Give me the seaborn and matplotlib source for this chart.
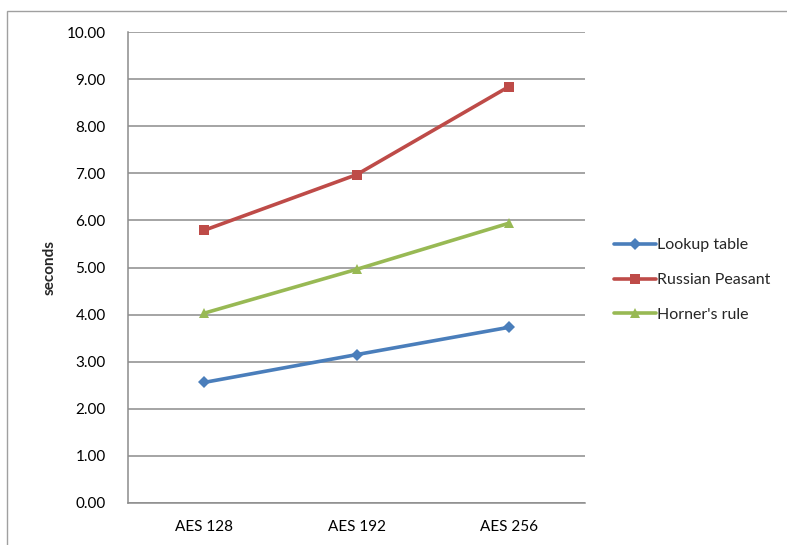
import matplotlib
matplotlib.use("Agg")
import matplotlib.pyplot as plt
from matplotlib.patches import Rectangle
import pandas as pd
import seaborn as sns

# Encryption timings per AES key size
key_sizes = ["AES 128", "AES 192", "AES 256"]
lookup_table = [2.56, 3.15, 3.73]
russian_peasant = [5.79, 6.97, 8.84]
horners_rule = [4.03, 4.96, 5.94]
series_names = ["Lookup table", "Russian Peasant", "Horner's rule"]
y_ticks = [0, 1, 2, 3, 4, 5, 6, 7, 8, 9, 10]

df = pd.DataFrame({
    "key": key_sizes * 3,
    "pos": list(range(len(key_sizes))) * 3,
    "seconds": lookup_table + russian_peasant + horners_rule,
    "method": [n for n in series_names for _ in key_sizes],
})

sns.set_theme(style="white")
plt.rcParams["font.family"] = ["Lato", "DejaVu Sans"]

palette = {"Lookup table": "#4A7EBB", "Russian Peasant": "#BE4B48", "Horner's rule": "#98B954"}
markers = {"Lookup table": "D", "Russian Peasant": "s", "Horner's rule": "^"}
msizes = {"Lookup table": 7, "Russian Peasant": 8.5, "Horner's rule": 9.5}

fig = plt.figure(figsize=(7.87, 5.45), dpi=100)
ax = fig.add_axes([128 / 787, 1 - 503 / 545, (585 - 128) / 787, (503 - 32) / 545])

for name in series_names:
    sub = df[df["method"] == name]
    sns.lineplot(data=sub, x="pos", y="seconds", ax=ax, color=palette[name],
                 marker=markers[name], markersize=msizes[name], linewidth=2.6,
                 markeredgewidth=0, label=name, legend=False)

ax.set_xlim(-0.5, len(key_sizes) - 0.5)
ax.set_ylim(0, 10)
ax.set_xticks(range(len(key_sizes)))
ax.set_xticklabels(key_sizes)
ax.set_yticks(y_ticks)
ax.set_yticklabels([f"{v:.2f}" for v in y_ticks])
ax.tick_params(axis="both", labelsize=11, colors="#000000", length=0)
ax.tick_params(axis="x", pad=12)
ax.tick_params(axis="y", pad=16)
ax.set_xlabel("")
ax.set_ylabel("seconds", fontsize=11, fontweight="bold", labelpad=7)

ax.yaxis.grid(True, color="#8C8C8C", linewidth=1.1)
ax.xaxis.grid(False)
ax.set_axisbelow(True)
for side in ["top", "right"]:
    ax.spines[side].set_visible(False)
for side in ["left", "bottom"]:
    ax.spines[side].set_color("#8C8C8C")
    ax.spines[side].set_linewidth(1.1)

handles, labels = ax.get_legend_handles_labels()
for h in handles:
    h.set_markersize(6.5)
leg = fig.legend(handles, labels, loc="center left",
                 bbox_to_anchor=(600 / 787, 1 - 280 / 545), frameon=False,
                 fontsize=11.5, handlelength=2.6, handletextpad=0.05,
                 labelspacing=1.3)

# outer chart frame
fig.patches.append(Rectangle((7 / 787, -0.1), 1.2, 1.1 - 11 / 545,
                             transform=fig.transFigure, fill=False,
                             edgecolor="#A0A0A0", linewidth=1.0))

fig.savefig("out.png", dpi=100)
